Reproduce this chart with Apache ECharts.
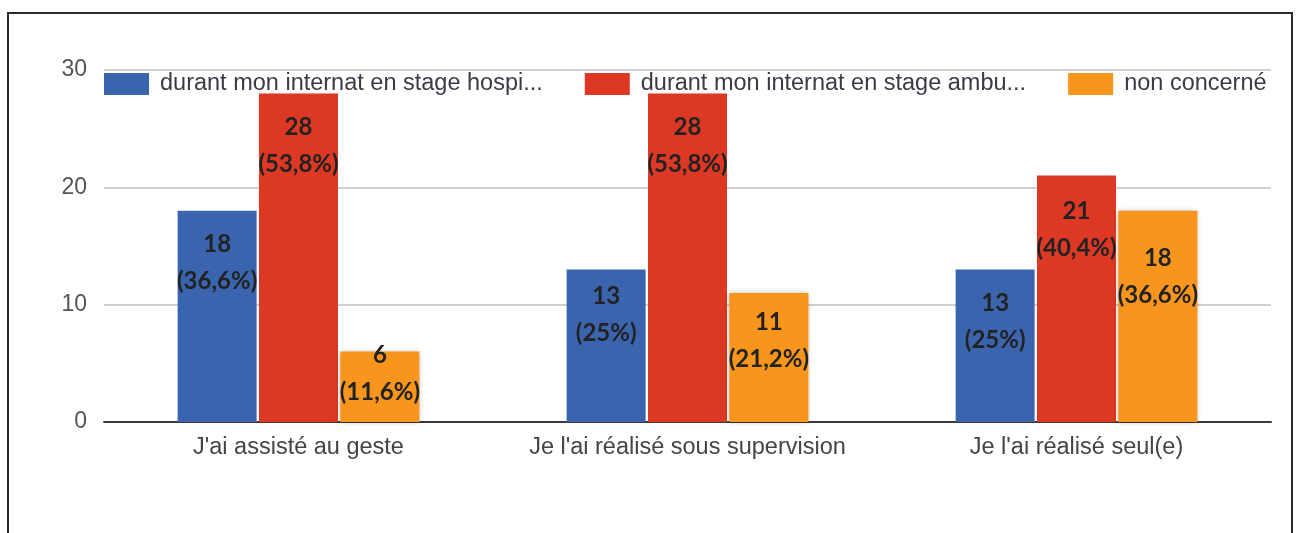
<!DOCTYPE html>
<html>
<head>
<meta charset="utf-8">
<script src="https://cdn.jsdelivr.net/npm/echarts@6/dist/echarts.min.js"></script>
<style>
  html, body { margin: 0; padding: 0; background: #fff; }
  #chart { width: 1299px; height: 533px; }
</style>
</head>
<body>
<div id="chart"></div>
<script>
// categories (x axis)
var categories = ["J'ai assisté au geste", "Je l'ai réalisé sous supervision", "Je l'ai réalisé seul(e)"];
// series names as shown in the legend
var seriesNames = ['durant mon internat en stage hospi...', 'durant mon internat en stage ambu...', 'non concerné'];
// values per series
var hospiValues = [18, 13, 13];
var ambuValues = [28, 28, 21];
var nonValues = [6, 11, 18];
// percentage text as printed on the bars
var hospiPct = ['36,6%', '25%', '25%'];
var ambuPct = ['53,8%', '53,8%', '40,4%'];
var nonPct = ['11,6%', '21,2%', '36,6%'];
// y axis ticks
var yTicks = [0, 10, 20, 30];

var colors = ['#3b64ae', '#dc3823', '#f7951d'];

var chart = echarts.init(document.getElementById('chart'));

function buildSeries(idx, values, pcts, shifts) {
    return {
        name: seriesNames[idx],
        type: 'bar',
        barWidth: 79,
        barGap: '3%',
        itemStyle: idx === 2
            ? { color: colors[idx], shadowColor: 'rgba(0,0,0,0.35)', shadowBlur: 5 }
            : { color: colors[idx] },
        label: {
            show: true,
            position: 'insideTop',
            distance: 15,
            formatter: function (p) { return p.value + '\n(' + pcts[p.dataIndex] + ')'; },
            fontFamily: 'Lato',
            fontWeight: 'bold',
            fontSize: 24,
            lineHeight: 37,
            color: '#222'
        },
        data: values.map(function (v, i) {
            return { value: v, label: { offset: [0, shifts[i]] } };
        })
    };
}

var option = {
    backgroundColor: '#fff',
    animation: false,
    color: colors,
    graphic: [{
        type: 'rect',
        shape: { x: 8, y: 13, width: 1284, height: 600 },
        style: { fill: 'none', stroke: '#2a2a2a', lineWidth: 2 },
        z: 100
    }],
    legend: {
        left: 104,
        top: 72,
        padding: 0,
        itemWidth: 45,
        itemHeight: 22,
        itemGap: 42,
        icon: 'rect',
        textStyle: {
            fontFamily: 'Liberation Sans',
            fontSize: 23.5,
            color: '#3c3a48',
            padding: [0, 0, 0, 6]
        },
        data: seriesNames
    },
    grid: {
        left: 104,
        right: 28,
        top: 70,
        bottom: 111,
        containLabel: false
    },
    xAxis: {
        type: 'category',
        data: categories,
        axisTick: { show: false },
        axisLine: { show: true, lineStyle: { color: '#3a3a3a', width: 2 } },
        axisLabel: {
            interval: 0,
            fontFamily: 'Liberation Sans',
            fontSize: 23.5,
            color: '#444',
            margin: 14
        }
    },
    yAxis: {
        type: 'value',
        min: yTicks[0],
        max: yTicks[yTicks.length - 1],
        interval: yTicks[1] - yTicks[0],
        axisLine: { show: false },
        axisTick: { show: false },
        splitLine: { lineStyle: { color: '#d0d0d0', width: 2 } },
        axisLabel: {
            fontFamily: 'Liberation Sans',
            fontSize: 23,
            color: '#555',
            margin: 17,
            padding: [3, 0, 0, 0]
        }
    },
    series: [
        buildSeries(0, hospiValues, hospiPct, [0, -7, 0]),
        buildSeries(1, ambuValues, ambuPct, [0, 0, 2]),
        buildSeries(2, nonValues, nonPct, [-30, -4, 14])
    ]
};

chart.setOption(option);
</script>
</body>
</html>
